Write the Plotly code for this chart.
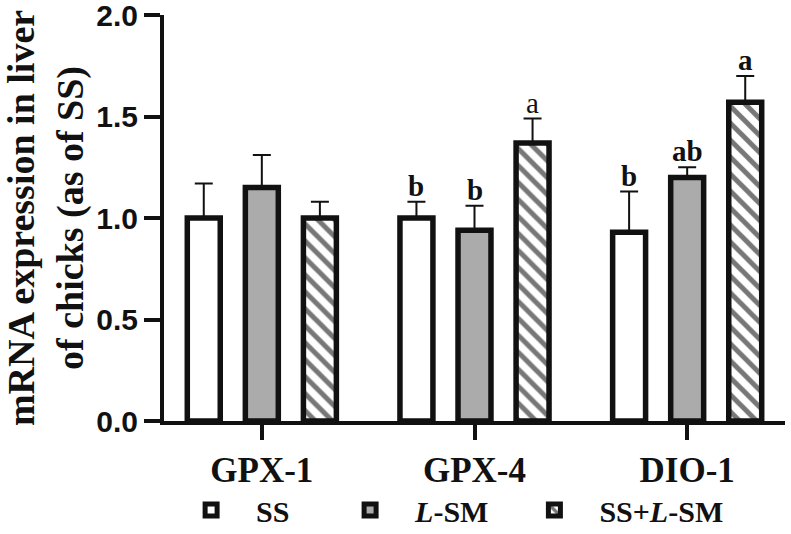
import plotly.graph_objects as go

categories = ["GPX-1", "GPX-4", "DIO-1"]
series_names = ["SS", "<i>L</i>-SM", "SS+<i>L</i>-SM"]
ss_vals = [1.00, 1.00, 0.93]
ss_err = [0.17, 0.08, 0.20]
lsm_vals = [1.15, 0.94, 1.20]
lsm_err = [0.16, 0.12, 0.05]
combo_vals = [1.00, 1.37, 1.57]
combo_err = [0.08, 0.12, 0.13]
ss_letters = ["", "b", "b"]
lsm_letters = ["", "b", "ab"]
combo_letters = ["", "a", "a"]
combo_letter_bold = [True, False, True]
y_ticks = [0.0, 0.5, 1.0, 1.5, 2.0]

SERIF = "Liberation Serif, Times New Roman, serif"
SANS = "Liberation Sans, Arial, sans-serif"
INK = "#111111"
offsets = [-0.273, 0.0, 0.273]
bar_w = 0.155
idx = list(range(len(categories)))
legend_ids = ["legend", "legend2", "legend3"]
legend_x = [0.210, 0.411, 0.644]

fills = [
    dict(color="white"),
    dict(color="#ababab"),
    dict(color="white", pattern=dict(shape="\\", fgcolor="#777777", bgcolor="white",
                                     size=12, solidity=0.42, fillmode="replace")),
]
vals = [ss_vals, lsm_vals, combo_vals]
errs = [ss_err, lsm_err, combo_err]
letters = [ss_letters, lsm_letters, combo_letters]

fig = go.Figure()
for s in range(3):
    xs = [i + offsets[s] for i in idx]
    marker = dict(line=dict(color=INK, width=5.5), **fills[s])
    fig.add_trace(go.Bar(
        x=xs, y=vals[s], width=bar_w, name=series_names[s], marker=marker,
        legend=legend_ids[s],
        error_y=dict(type="data", symmetric=False, array=errs[s],
                     arrayminus=[0] * 3, color=INK, thickness=2, width=9),
    ))
    for i in idx:
        t = letters[s][i]
        if not t:
            continue
        bold = combo_letter_bold[i] if s == 2 else True
        fig.add_annotation(
            x=xs[i], y=vals[s][i] + errs[s][i], text=t, showarrow=False,
            yanchor="bottom", yshift=-2,
            font=dict(family=SERIF, size=29, color=INK,
                      weight="bold" if bold else "normal"),
        )

legend_style = dict(orientation="h", xref="container", xanchor="left",
                    yref="container", y=0.045, yanchor="middle",
                    font=dict(family=SERIF, size=30, color=INK, weight="bold"),
                    itemwidth=80, tracegroupgap=0, bgcolor="rgba(0,0,0,0)")

fig.update_layout(
    width=791, height=534,
    margin=dict(l=164, r=6, t=15, b=113, autoexpand=False),
    plot_bgcolor="white", paper_bgcolor="white",
    barmode="overlay", showlegend=True,
    legend=dict(x=legend_x[0], **legend_style),
    legend2=dict(x=legend_x[1], **legend_style),
    legend3=dict(x=legend_x[2], **legend_style),
)
fig.update_xaxes(
    range=[-0.46, 2.46], tickvals=idx, ticktext=categories, automargin=False,
    showline=True, linecolor=INK, linewidth=4,
    ticks="outside", ticklen=15, tickwidth=4, tickcolor=INK,
    tickfont=dict(family=SERIF, size=35, color=INK, weight="bold"),
    showgrid=False, zeroline=False,
)
fig.update_yaxes(
    range=[0, 2.0], tickvals=y_ticks, tickformat=".1f", automargin=False,
    ticklabeloverflow="allow",
    showline=True, linecolor=INK, linewidth=4,
    ticks="outside", ticklen=16, tickwidth=4, tickcolor=INK,
    tickfont=dict(family=SANS, size=30, color=INK, weight="bold"),
    showgrid=False, zeroline=False,
    title=dict(text="mRNA expression in liver<br>of chicks (as of SS)", standoff=14,
               font=dict(family=SERIF, size=38, color=INK, weight="bold")),
)

fig.write_html("out.html", config={"displayModeBar": False},
               post_script="document.body.style.margin='0px';")
